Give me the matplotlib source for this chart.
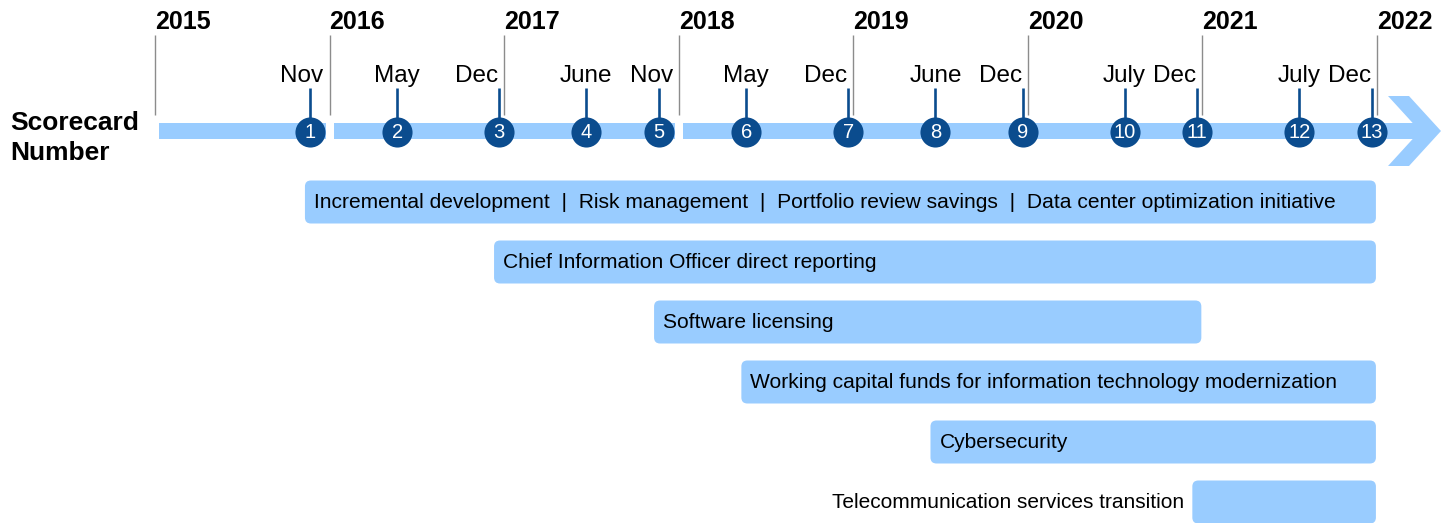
import matplotlib
matplotlib.use("Agg")
import matplotlib.pyplot as plt
from matplotlib.patches import FancyBboxPatch, Rectangle, Polygon

plt.rcParams['font.family'] = ['Liberation Sans', 'DejaVu Sans']

# ---------------- data ----------------
years = [2015, 2016, 2017, 2018, 2019, 2020, 2021, 2022]
scorecard_numbers = list(range(1, 14))
scorecard_months = ["Nov", "May", "Dec", "June", "Nov", "May", "Dec",
                    "June", "Dec", "July", "Dec", "July", "Dec"]
scorecard_years = [2015, 2016, 2016, 2017, 2017, 2018, 2018,
                   2019, 2019, 2020, 2020, 2021, 2021]
areas = [
    "Incremental development  |  Risk management  |  Portfolio review savings  |  Data center optimization initiative",
    "Chief Information Officer direct reporting",
    "Software licensing",
    "Working capital funds for information technology modernization",
    "Cybersecurity",
    "Telecommunication services transition",
]
area_start = [1, 3, 5, 6, 8, 11]   # first scorecard
area_end = [13, 13, 11, 13, 13, 13]  # last scorecard
label_outside = [False, False, False, False, False, True]

# ---------------- styling ----------------
W, H = 1450, 523
LIGHT = "#99CCFF"
DARK = "#0B4C8E"
GRAY = "#8C8C8C"
month_num = {"Jan": 1, "Feb": 2, "Mar": 3, "Apr": 4, "May": 5, "June": 6,
             "July": 7, "Aug": 8, "Sep": 9, "Oct": 10, "Nov": 11, "Dec": 12}

PX_PER_YEAR = (1377 - 155) / 7.0
X0 = 2015 - 155 / PX_PER_YEAR
def px(n):  # pixel distance -> years
    return n / PX_PER_YEAR

fig = plt.figure(figsize=(W / 100, H / 100), dpi=100)
ax = fig.add_axes([0, 0, 1, 1])
ax.set_xlim(X0, X0 + W / PX_PER_YEAR)
ax.set_ylim(H, 0)
ax.axis("off")

sc_x = [y + (month_num[m] - 0.35) / 12 for y, m in zip(scorecard_years, scorecard_months)]

# timeline band (segments with gaps at 2016 and 2018)
band_y0, band_y1 = 123, 139
band_start = X0 + px(159)
band_end = X0 + px(1420)
gaps = [2016, 2018]
edges = [band_start]
for g in gaps:
    edges += [g - px(4), g + px(4)]
edges.append(band_end)
for a, b in zip(edges[0::2], edges[1::2]):
    ax.add_patch(Rectangle((a, band_y0), b - a, band_y1 - band_y0,
                           facecolor=LIGHT, edgecolor="none", zorder=1))

# chevron arrow head
cx = lambda p: X0 + px(p)
chev = [(cx(1388), 96), (cx(1409), 96), (cx(1441), 131),
        (cx(1409), 166), (cx(1388), 166), (cx(1420), 131)]
ax.add_patch(Polygon(chev, closed=True, facecolor=LIGHT, edgecolor="none", zorder=1))

# year lines and labels
for yr in years:
    ax.plot([yr, yr], [35, 115], color=GRAY, lw=1.0, zorder=2, solid_capstyle="butt")
    ax.text(yr, 29, str(yr), ha="left", va="baseline", fontsize=18,
            fontweight="bold", color="black")

# scorecard stems, month labels
for n, x, m, y in zip(scorecard_numbers, sc_x, scorecard_months, scorecard_years):
    ax.plot([x, x], [88, 120], color=DARK, lw=1.9, zorder=3, solid_capstyle="butt")
    if m in ("Nov", "Dec"):
        ax.text(y + 1 - px(6), 82, m, ha="right", va="baseline", fontsize=17.5)
    else:
        ax.text(x, 82, m, ha="center", va="baseline", fontsize=17.5)
# circles with numbers
ax.scatter(sc_x, [131.5] * len(sc_x), s=470, color=DARK, zorder=4, linewidths=0)
for n, x in zip(scorecard_numbers, sc_x):
    ax.text(x, 132.5, str(n), ha="center", va="center", fontsize=14.5,
            color="white", zorder=5)

# left label
ax.text(X0 + px(10), 130, "Scorecard", ha="left", va="baseline",
        fontsize=19, fontweight="bold")
ax.text(X0 + px(10), 160, "Number", ha="left", va="baseline",
        fontsize=19, fontweight="bold")

# priority area bars
bar_h = 43
for i, (lab, s, e, out) in enumerate(zip(areas, area_start, area_end, label_outside)):
    yc = 202 + 60 * i
    x0 = sc_x[s - 1] - px(5)
    x1 = sc_x[e - 1] + px(4)
    r = px(6)
    ax.add_patch(FancyBboxPatch((x0, yc - bar_h / 2), x1 - x0, bar_h,
                                boxstyle=f"round,pad=0,rounding_size={r}",
                                mutation_aspect=PX_PER_YEAR,
                                facecolor=LIGHT, edgecolor="none", zorder=1))
    if out:
        ax.text(x0 - px(8), yc + 1, lab, ha="right", va="center", fontsize=15)
    else:
        ax.text(x0 + px(9), yc + 1, lab, ha="left", va="center", fontsize=15.1)

fig.savefig("out.png", dpi=100)
